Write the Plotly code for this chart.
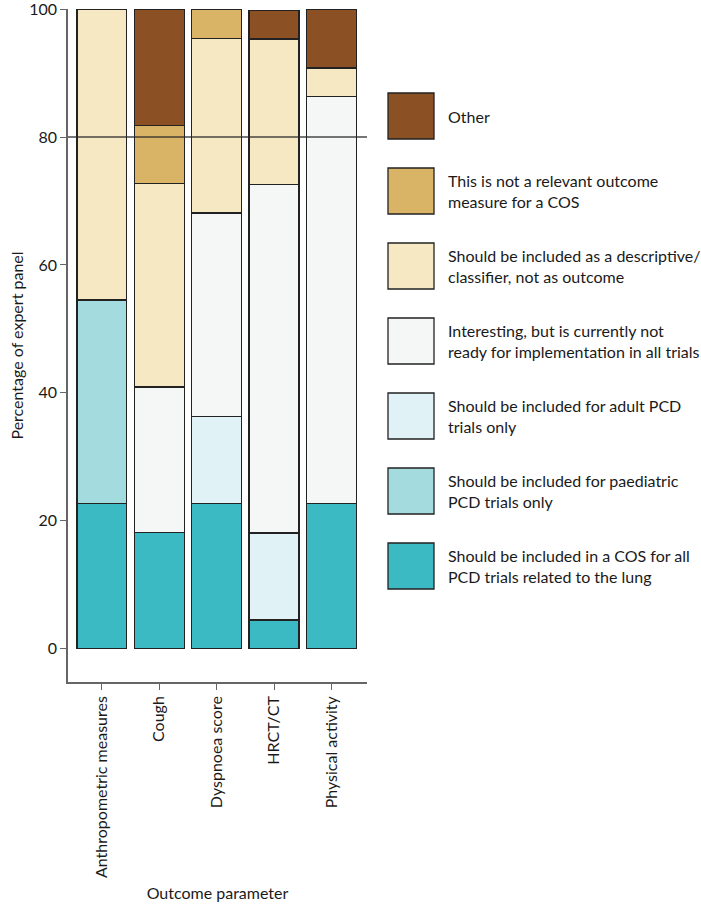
import plotly.graph_objects as go

categories = ["Anthropometric measures", "Cough", "Dyspnoea score", "HRCT/CT", "Physical activity"]

series_names = [
    "Should be included in a COS for all<br>PCD trials related to the lung",
    "Should be included for paediatric<br>PCD trials only",
    "Should be included for adult PCD<br>trials only",
    "Interesting, but is currently not<br>ready for implementation in all trials",
    "Should be included as a descriptive/<br>classifier, not as outcome",
    "This is not a relevant outcome<br>measure for a COS",
    "Other",
]
all_lung      = [22.7, 18.2, 22.7, 4.5, 22.7]
paediatric    = [31.8, 0.0, 0.0, 0.0, 0.0]
adult         = [0.0, 0.0, 13.6, 13.6, 0.0]
interesting   = [0.0, 22.7, 31.8, 54.5, 63.6]
descriptive   = [45.5, 31.8, 27.3, 22.7, 4.5]
not_relevant  = [0.0, 9.1, 4.5, 0.0, 0.0]
other         = [0.0, 18.2, 0.0, 4.5, 9.1]
series_values = [all_lung, paediatric, adult, interesting, descriptive, not_relevant, other]
colors = ["#3bbac4", "#a3dbdf", "#e0f2f5", "#f5f7f6", "#f7e8c4", "#d9b467", "#8b5023"]

y_ticks = [0, 20, 40, 60, 80, 100]
ref_line = 80

FONT = "Lato"
FS = 16
W, H = 701, 905
ML, MR, MT, MB = 68, 334, 9, 223

fig = go.Figure()
for name, vals, col in zip(series_names, series_values, colors):
    fig.add_trace(go.Bar(
        x=categories, y=vals, name=name,
        marker=dict(color=col, line=dict(color="#222222", width=1.3)),
        width=0.87, showlegend=False,
    ))

fig.add_shape(type="line", xref="paper", yref="y", x0=0, x1=1, y0=ref_line, y1=ref_line,
              line=dict(color="rgba(40,40,40,0.85)", width=1.3), layer="above")

# manual legend (top item = last series)
pw = W - ML - MR
ph = H - MT - MB
def px2x(p):
    return (p - ML) / pw
def py2y(p):
    return 1 - (p - MT) / ph

top0, step, sq = 93, 75, 46
for i, (name, col) in enumerate(zip(reversed(series_names), reversed(colors))):
    t = top0 + i * step
    fig.add_shape(type="rect", xref="paper", yref="paper",
                  x0=px2x(388), x1=px2x(388 + sq), y0=py2y(t + sq), y1=py2y(t),
                  fillcolor=col, line=dict(color="#222222", width=1.3))
    fig.add_annotation(xref="paper", yref="paper", x=px2x(446), y=py2y(t + sq / 2),
                       text=name, showarrow=False, xanchor="left", yanchor="middle",
                       align="left", font=dict(family=FONT, size=FS, color="#1a1a1a"))

fig.update_layout(
    barmode="stack",
    width=W, height=H,
    margin=dict(l=ML, r=MR, t=MT, b=MB, autoexpand=False),
    plot_bgcolor="white", paper_bgcolor="white",
    font=dict(family=FONT, size=FS, color="#1a1a1a"),
)
fig.update_xaxes(
    range=[-0.59, 4.62], showline=True, linecolor="#666666", linewidth=1.5,
    ticks="outside", ticklen=6, tickcolor="#666666", tickangle=-90,
    title=dict(text="Outcome parameter", font=dict(family=FONT, size=FS), standoff=11),
    showgrid=False, tickfont=dict(family=FONT, size=FS), automargin=False,
)
fig.update_yaxes(
    range=[-5.2, 100.01], showline=True, linecolor="#666666", linewidth=1.5,
    ticks="outside", ticklen=6, tickcolor="#666666", tickvals=y_ticks,
    ticklabeloverflow="allow",
    title=dict(text="Percentage of expert panel", font=dict(family=FONT, size=FS), standoff=2),
    showgrid=False, zeroline=False, tickfont=dict(family=FONT, size=FS), automargin=False,
)

fig.write_html("out.html", config={"displayModeBar": False},
               post_script="document.body.style.margin='0';")
